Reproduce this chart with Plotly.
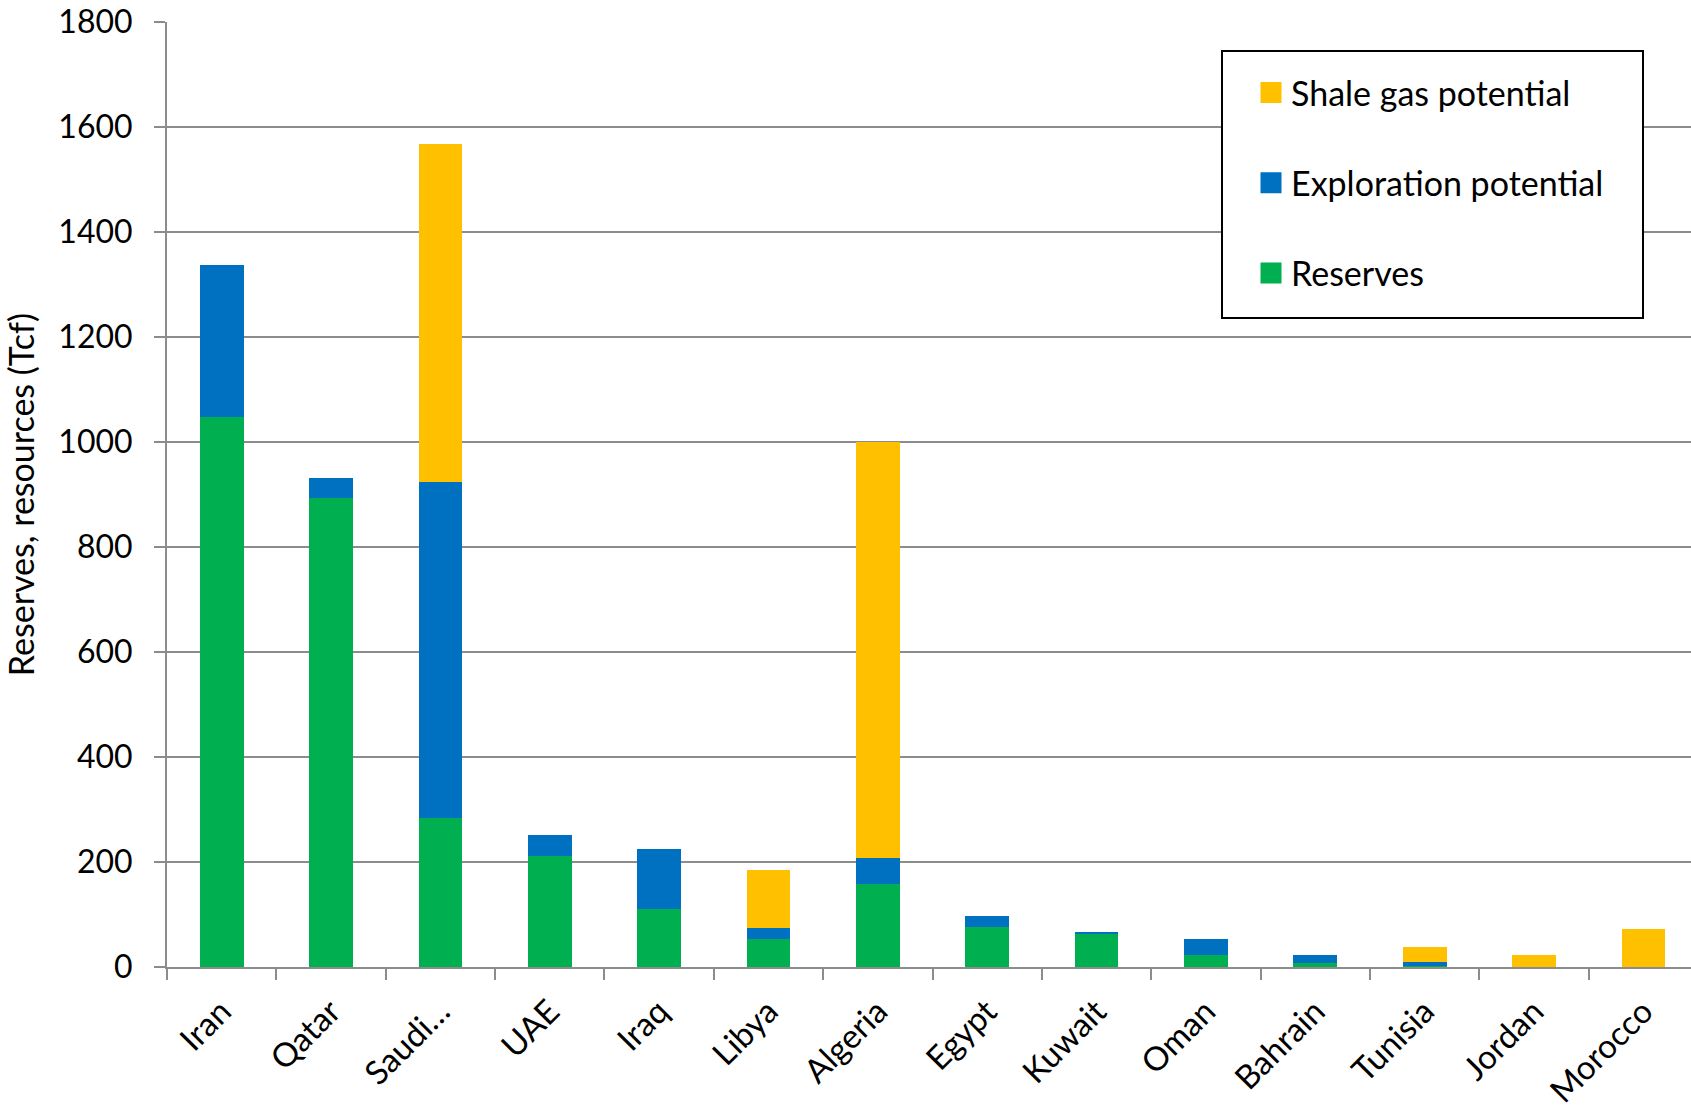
import plotly.graph_objects as go

countries = ["Iran", "Qatar", "Saudi…", "UAE", "Iraq", "Libya", "Algeria", "Egypt",
             "Kuwait", "Oman", "Bahrain", "Tunisia", "Jordan", "Morocco"]
reserves = [1047, 893, 283, 212, 111, 54, 158, 77, 63, 23, 7, 2, 0, 0]
exploration = [291, 39, 641, 40, 113, 21, 49, 21, 4, 31, 16, 7, 0, 0]
shale = [0, 0, 644, 0, 0, 110, 793, 0, 0, 0, 0, 30, 22, 73]

series_names = ["Reserves", "Exploration potential", "Shale gas potential"]
series_values = [reserves, exploration, shale]
series_colors = ["#00B050", "#0070C0", "#FFC000"]

FONT = "Lato"
GRID = "#8c8c8c"

fig = go.Figure()
for name, vals, col in zip(series_names, series_values, series_colors):
    fig.add_trace(go.Bar(x=countries, y=vals, name=name, marker_color=col,
                         marker_line_width=0, width=0.4, showlegend=False))

# legend entries (top to bottom: shale, exploration, reserves)
for i, (name, col) in enumerate(reversed(list(zip(series_names, series_colors)))):
    fig.add_trace(go.Scatter(x=[countries[0]], y=[None], mode="markers", name=name,
                             marker=dict(symbol="square", size=16, color=col,
                                         line=dict(color=col, width=5)),
                             legendgroup=f"g{i}", showlegend=True))

L, R, T, B = 167, 0, 22, 143
W, H = 1691, 1110
pw, ph = W - L - R, H - T - B

def px_x(x):
    return (x - L) / pw

def px_y(y):
    return (H - B - y) / ph

fig.add_shape(type="rect", xref="paper", yref="paper",
              x0=px_x(1222), x1=px_x(1643), y0=px_y(318), y1=px_y(51),
              fillcolor="white", line=dict(color="black", width=2), layer="above")

fig.update_layout(
    width=W, height=H,
    margin=dict(l=L, r=R, t=T, b=B, autoexpand=False),
    paper_bgcolor="white", plot_bgcolor="white",
    barmode="stack", bargap=0.6,
    font=dict(family=FONT, size=33, color="black"),
    legend=dict(x=px_x(1251), y=px_y(64), xanchor="left", yanchor="top",
                bgcolor="rgba(0,0,0,0)", borderwidth=0, traceorder="grouped",
                tracegroupgap=43, font=dict(family=FONT, size=34, color="black")),
    xaxis=dict(range=[-0.5, 13.435], tickangle=-45, showline=True, linecolor=GRID,
               linewidth=2, ticks="outside", tickson="boundaries", ticklen=11,
               tickcolor=GRID, tickwidth=2, showgrid=False, ticklabelstandoff=10,
               tickfont=dict(family=FONT, size=33, color="black")),
    yaxis=dict(range=[0, 1800], dtick=200, showline=True, linecolor=GRID, linewidth=2,
               ticks="outside", ticklen=11, tickcolor=GRID, tickwidth=2,
               showgrid=True, gridcolor=GRID, gridwidth=1.5, zeroline=False,
               ticklabelstandoff=15,
               tickfont=dict(family=FONT, size=32, color="black")),
)
fig.update_yaxes(title=dict(text="Reserves, resources (Tcf)", standoff=14,
                            font=dict(family=FONT, size=34, color="black")))

fig.write_html("out.html")
